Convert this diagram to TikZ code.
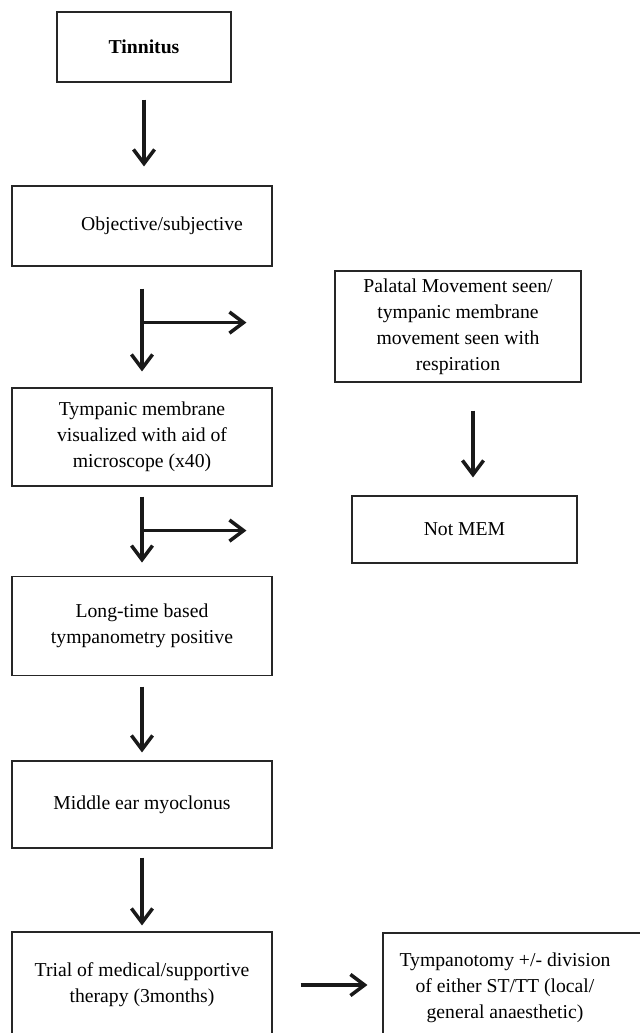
\documentclass[tikz,border=0pt]{standalone}
\usepackage{fontspec}
\setmainfont{Liberation Serif}
\usepackage{tikz}
\usetikzlibrary{arrows.meta,positioning}

\tikzset{
    flowbox/.style={draw=black!85, line width=0.8pt, align=center, inner sep=2pt,
        font=\fontsize{14}{18.5}\selectfont},
    flowarrow/.style={draw=black!90, line width=2.5pt,
        -{Straight Barb[length=10pt,width=15pt,line width=2.5pt]}}
}

\begin{document}
\begin{tikzpicture}
            \useasboundingbox (0,0) rectangle (16,-25.825);

            % Draw the left column
            \node[flowbox, minimum width=4.35cm, minimum height=1.75cm] (tin) at (3.6,-1.175) {\textbf{Tinnitus}};
            \node[flowbox, minimum width=6.5cm, minimum height=2cm] (obj) at (3.55,-5.65) {\hspace*{1cm}Objective/subjective};
            \node[flowbox, minimum width=6.5cm, minimum height=2.45cm] (tymp) at (3.55,-10.925) {Tympanic membrane\\visualized with aid of\\microscope (x40)};
            \node[flowbox, minimum width=6.5cm, minimum height=2.475cm] (long) at (3.55,-15.64) {Long-time based\\tympanometry positive};
            \node[flowbox, minimum width=6.5cm, minimum height=2.175cm] (mid) at (3.55,-20.1125) {Middle ear myoclonus};
            \node[flowbox, minimum width=6.5cm, minimum height=2.65cm] (trial) at (3.55,-24.625) {Trial of medical/supportive\\therapy (3months)};

            % Draw the right column
            \node[flowbox, minimum width=6.15cm, minimum height=2.775cm] (pal) at (11.45,-8.1625) {Palatal Movement seen/\\tympanic membrane\\movement seen with\\respiration};
            \node[flowbox, minimum width=5.625cm, minimum height=1.675cm] (notmem) at (11.6125,-13.2375) {Not MEM};
            \node[flowbox, minimum width=6.8cm, minimum height=2.7cm] (tymptomy) at (12.975,-24.675) {\begin{tabular}{@{}c@{}}Tympanotomy +/- division\\of either ST/TT (local/\\general anaesthetic)\end{tabular}\hspace*{0.7cm}};

            % Branch points
            \coordinate (j1) at ([yshift=-1.4cm]obj.south);
            \coordinate (j2) at ([yshift=-1.1cm]tymp.south);

            % Draw the arrows
            \draw[flowarrow, shorten <=0.425cm, shorten >=0.475cm] (tin.south) -- (tin.south |- obj.north);
            \draw[flowarrow, shorten <=0.55cm, shorten >=0.4cm] (obj.south) -- (tymp.north);
            \draw[flowarrow, shorten >=2.2cm] (j1) -- (j1 -| pal.west);
            \draw[flowarrow, shorten <=0.25cm, shorten >=0.325cm] (tymp.south) -- (long.north);
            \draw[flowarrow, shorten >=2.625cm] (j2) -- (j2 -| notmem.west);
            \draw[flowarrow, shorten <=0.7cm, shorten >=0.45cm] ([xshift=0.375cm]pal.south) -- ([xshift=0.375cm]pal.south |- notmem.north);
            \draw[flowarrow, shorten <=0.275cm, shorten >=0.2cm] (long.south) -- (mid.north);
            \draw[flowarrow, shorten <=0.225cm, shorten >=0.15cm] (mid.south) -- (trial.north);
            \draw[flowarrow, shorten <=0.7cm, shorten >=0.375cm] (trial.east) -- (trial.east -| tymptomy.west);

        \end{tikzpicture}
\end{document}
